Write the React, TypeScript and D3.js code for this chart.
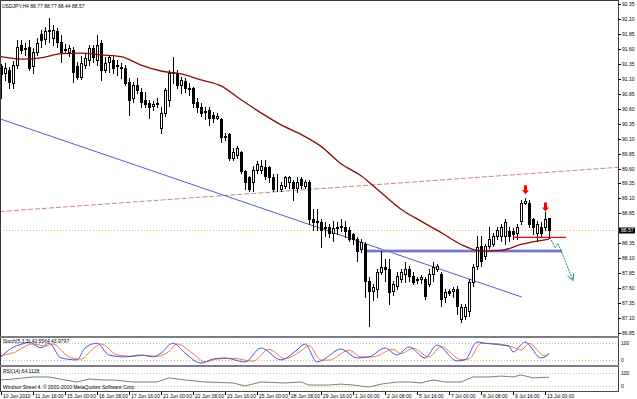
import React from "react";
import * as d3 from "d3";

const TITLE = "USDJPY,H4 88.77 88.77 88.44 88.57";
const STOCH_TITLE = "Stoch(5,3,3) 42.5564 43.9797";
const RSI_TITLE = "RSI(14) 64.1128";
const COPYRIGHT = "Windsor Street 4, \u00a9 2001-2010 MetaQuotes Software Corp.";

const opens = [
  91.32, 91.2, 91.25, 91.03, 91.33, 91.67, 91.62, 91.63, 91.32, 91.55,
  91.85, 91.77, 91.9, 91.78, 91.9, 91.72, 91.58, 91.55, 91.58, 91.32,
  91.13, 91.33, 91.42, 91.62, 91.42, 91.7, 91.25, 91.38, 91.42, 91.33,
  91.3, 91.28, 91.05, 90.78, 91.0, 90.88, 90.75, 90.7, 90.65, 90.67,
  90.27, 90.53, 90.75, 91.2, 91.2, 91.0, 91.07, 90.93, 90.95, 90.72,
  90.63, 90.55, 90.58, 90.5, 90.45, 90.42, 90.13, 90.17, 89.78, 89.83,
  89.87, 89.55, 89.45, 89.37, 89.58, 89.58, 89.63, 89.62, 89.45, 89.3,
  89.25, 89.3, 89.37, 89.37, 89.28, 89.42, 89.3, 89.38, 88.75, 88.72,
  88.7, 88.62, 88.62, 88.53, 88.62, 88.63, 88.63, 88.58, 88.5, 88.42,
  88.25, 88.33, 87.72, 87.55, 87.58, 87.87, 87.95, 87.92, 87.55, 87.63,
  87.75, 87.83, 87.92, 87.8, 87.75, 87.75, 87.75, 87.67, 87.83, 87.92,
  87.83, 87.45, 87.55, 87.55, 87.58, 87.08, 87.13, 87.22, 87.7, 87.97,
  88.3, 88.13, 88.3, 88.33, 88.47, 88.47, 88.47, 88.55, 88.55, 88.53,
  88.72, 89.03, 89.03, 88.75, 88.53, 88.63, 88.62, 88.77,
];
const highs = [
  91.35, 91.37, 91.3, 91.4, 91.75, 91.75, 91.7, 91.75, 91.62, 91.78,
  91.92, 91.97, 92.12, 92.0, 91.95, 91.83, 91.68, 91.67, 91.63, 91.38,
  91.48, 91.52, 91.67, 91.67, 91.83, 91.75, 91.47, 91.5, 91.5, 91.42,
  91.37, 91.33, 91.12, 91.05, 91.12, 90.95, 90.88, 90.75, 90.73, 90.78,
  90.63, 90.95, 91.25, 91.47, 91.25, 91.13, 91.12, 91.03, 90.97, 90.78,
  90.7, 90.63, 90.62, 90.55, 90.53, 90.45, 90.2, 90.2, 89.95, 89.98,
  89.9, 89.58, 89.48, 89.65, 89.73, 89.75, 89.75, 89.65, 89.5, 89.5,
  89.37, 89.47, 89.48, 89.4, 89.45, 89.45, 89.4, 89.4, 88.92, 88.93,
  88.75, 88.7, 88.67, 88.72, 88.7, 88.75, 88.72, 88.63, 88.53, 88.45,
  88.42, 88.37, 87.78, 87.67, 87.92, 88.22, 88.08, 88.08, 87.72, 87.87,
  87.92, 88.03, 87.97, 87.87, 87.78, 87.82, 87.78, 87.92, 88.03, 88.0,
  87.87, 87.58, 87.58, 87.62, 87.63, 87.33, 87.33, 87.75, 88.0, 88.47,
  88.47, 88.33, 88.63, 88.53, 88.63, 88.67, 88.75, 88.62, 88.6, 88.67,
  89.07, 89.1, 89.07, 88.78, 88.72, 88.7, 88.87, 88.77,
];
const lows = [
  90.78, 91.08, 90.95, 90.95, 91.28, 91.53, 91.5, 91.25, 91.2, 91.5,
  91.63, 91.68, 91.72, 91.67, 91.63, 91.38, 91.53, 91.48, 91.05, 91.1,
  91.1, 91.28, 91.33, 91.38, 91.33, 91.08, 91.22, 91.22, 91.2, 91.17,
  91.12, 91.0, 90.5, 90.72, 90.87, 90.62, 90.62, 90.45, 90.58, 90.62,
  90.2, 90.48, 90.65, 91.03, 90.95, 90.87, 90.88, 90.83, 90.63, 90.55,
  90.47, 90.42, 90.33, 90.38, 90.42, 90.05, 90.08, 89.75, 89.75, 89.78,
  89.53, 89.25, 89.23, 89.23, 89.53, 89.52, 89.42, 89.37, 89.22, 89.22,
  89.22, 89.27, 89.27, 89.08, 89.2, 89.28, 89.28, 88.67, 88.58, 88.58,
  88.28, 88.47, 88.45, 88.38, 88.5, 88.55, 88.45, 88.38, 88.33, 88.05,
  88.2, 87.45, 86.97, 87.4, 87.45, 87.83, 87.72, 87.33, 87.48, 87.58,
  87.7, 87.7, 87.72, 87.67, 87.68, 87.68, 87.42, 87.63, 87.72, 87.88,
  87.3, 87.37, 87.48, 87.45, 87.17, 87.03, 87.08, 87.13, 87.63, 87.92,
  87.97, 88.08, 88.27, 88.3, 88.42, 88.38, 88.33, 88.38, 88.42, 88.42,
  88.67, 89.0, 88.63, 88.5, 88.38, 88.47, 88.58, 88.44,
];
const closes = [
  91.18, 91.28, 91.05, 91.33, 91.63, 91.58, 91.6, 91.28, 91.55, 91.7,
  91.75, 91.9, 91.92, 91.92, 91.72, 91.53, 91.6, 91.62, 91.22, 91.13,
  91.37, 91.45, 91.62, 91.47, 91.67, 91.25, 91.37, 91.47, 91.28, 91.32,
  91.28, 91.03, 90.75, 91.0, 90.92, 90.72, 90.67, 90.63, 90.68, 90.7,
  90.52, 90.92, 91.2, 91.22, 91.0, 91.08, 90.95, 90.95, 90.7, 90.63,
  90.53, 90.56, 90.45, 90.45, 90.47, 90.13, 90.14, 89.78, 89.88, 89.95,
  89.55, 89.38, 89.25, 89.58, 89.67, 89.65, 89.47, 89.45, 89.25, 89.31,
  89.32, 89.45, 89.45, 89.28, 89.38, 89.33, 89.37, 88.75, 88.7, 88.71,
  88.58, 88.61, 88.53, 88.6, 88.61, 88.64, 88.55, 88.42, 88.42, 88.22,
  88.37, 87.72, 87.55, 87.62, 87.87, 87.95, 87.92, 87.53, 87.67, 87.8,
  87.87, 87.92, 87.8, 87.7, 87.74, 87.78, 87.47, 87.83, 87.95, 87.97,
  87.42, 87.53, 87.52, 87.58, 87.3, 87.28, 87.28, 87.7, 87.95, 88.28,
  88.05, 88.3, 88.42, 88.47, 88.58, 88.63, 88.7, 88.47, 88.5, 88.62,
  89.03, 89.05, 88.67, 88.63, 88.67, 88.53, 88.75, 88.57,
];

const timeLabels = [
  "10 Jun 2010", "11 Jun 16:00", "15 Jun 00:00", "16 Jun 08:00", "17 Jun 16:00",
  "21 Jun 00:00", "22 Jun 08:00", "23 Jun 16:00", "25 Jun 00:00", "28 Jun 08:00",
  "29 Jun 16:00", "1 Jul 00:00", "2 Jul 08:00", "5 Jul 16:00", "7 Jul 00:00",
  "8 Jul 08:00", "9 Jul 16:00", "13 Jul 00:00",
];
const timeLabelBars = [0, 8, 16, 24, 32, 40, 48, 56, 64, 72, 80, 88, 96, 104, 112, 120, 128, 136];

const priceTicks = [
  92.35, 92.1, 91.85, 91.6, 91.35, 91.1, 90.85, 90.6, 90.35, 90.1, 89.85, 89.6,
  89.35, 89.1, 88.85, 88.35, 88.1, 87.85, 87.6, 87.35, 87.1, 86.85,
];
const lastPrice = 88.57;

const maBars = [0, 5, 10, 15, 20, 25, 30, 35, 40, 45, 50, 55, 60, 65, 70, 75, 80, 85, 90, 95, 100, 105, 110, 115, 120, 125, 130, 137];
const maValues = [91.47, 91.43, 91.45, 91.52, 91.53, 91.5, 91.47, 91.33, 91.23, 91.18, 91.08, 90.98, 90.75, 90.53, 90.33, 90.17, 89.97, 89.68, 89.48, 89.2, 88.92, 88.72, 88.53, 88.33, 88.22, 88.23, 88.33, 88.42];

const stochMainBars = [0, 2, 6, 7, 10, 12, 15, 19, 21, 24, 27, 31, 35, 38, 40, 43, 46, 50, 53, 56, 61, 65, 70, 74, 76, 79, 80, 85, 89, 92, 96, 99, 102, 106, 109, 114, 116, 119, 121, 125, 127, 128, 131, 135, 136, 137];
const stochMainValues = [30, 56, 81, 85, 63, 81, 26, 19, 63, 81, 37, 30, 37, 30, 44, 81, 44, 7, 22, 26, 11, 63, 19, 56, 78, 11, 15, 59, 26, 30, 63, 37, 67, 26, 74, 15, 19, 85, 81, 74, 70, 48, 85, 26, 30, 42.56];
const stochSignalBars = [0, 3, 8, 11, 13, 17, 20, 23, 25, 29, 33, 36, 39, 42, 44, 48, 51, 54, 58, 63, 67, 71, 75, 77, 80, 82, 87, 90, 93, 98, 100, 103, 107, 110, 115, 117, 120, 123, 126, 128, 130, 132, 136, 137];
const stochSignalValues = [35, 45, 78, 70, 78, 30, 22, 60, 78, 38, 32, 36, 32, 50, 78, 42, 12, 22, 25, 14, 58, 24, 52, 72, 18, 18, 55, 30, 30, 58, 42, 62, 30, 68, 20, 22, 80, 80, 74, 66, 55, 80, 34, 43.98];

const rsiBars = [0, 3, 8, 12, 16, 19, 22, 25, 28, 33, 39, 42, 46, 51, 58, 61, 65, 71, 75, 77, 82, 85, 88, 92, 95, 99, 102, 105, 108, 111, 115, 118, 122, 125, 128, 130, 133, 137];
const rsiValues = [48, 52, 61, 61, 48, 39, 52, 48, 48, 39, 39, 57, 48, 39, 35, 22, 39, 35, 39, 26, 26, 30, 26, 17, 30, 39, 39, 35, 48, 39, 39, 61, 61, 65, 61, 70, 57, 60];

const trendBars = [-0.25, 130.25];
const trendPrices = [90.43, 87.45];
const channelBars = [-0.25, 154.25];
const channelPrices = [88.88, 89.62];
const supportBars = [91.25, 140.25];
const supportPrice = 88.22;
const redLineBars = [128, 141.25];
const redLinePrice = 88.45;
const projBars = [137.25, 138.5, 139.25, 143];
const projPrices = [88.45, 88.27, 88.35, 87.73];
const arrowBars = [131, 136];
const arrowPrices = [89.17, 88.88];

const FONT = "'Liberation Sans', Arial, sans-serif";
const PR = 618; // plot right edge

export default function App() {
  const x = d3.scaleLinear().domain([0, 137]).range([1, 549]);
  const y = d3.scaleLinear().domain([86.85, 92.35]).range([333, 4]);
  const ys = d3.scaleLinear().domain([0, 100]).range([365, 338]);
  const yr = d3.scaleLinear().domain([0, 100]).range([391, 368]);

  const maLine = d3
    .line<number>()
    .x((_, i) => x(maBars[i]))
    .y((d) => y(d))
    .curve(d3.curveMonotoneX)(maValues);

  const stochMain = d3
    .line<number>()
    .x((_, i) => x(stochMainBars[i]))
    .y((d) => ys(d))
    .curve(d3.curveMonotoneX)(stochMainValues);
  const stochSig = d3
    .line<number>()
    .x((_, i) => x(stochSignalBars[i]))
    .y((d) => ys(d))
    .curve(d3.curveMonotoneX)(stochSignalValues);
  const rsiLine = d3
    .line<number>()
    .x((_, i) => x(rsiBars[i]))
    .y((d) => yr(d))(rsiValues);

  const projLine = d3
    .line<number>()
    .x((_, i) => x(projBars[i]))
    .y((d) => y(d))(projPrices);
  const n = projBars.length;
  const tipX = x(projBars[n - 1]);
  const tipY = y(projPrices[n - 1]);
  const ang = Math.atan2(tipY - y(projPrices[n - 2]), tipX - x(projBars[n - 2]));
  const headLen = 7;
  const h1 = [tipX - headLen * Math.cos(ang - 0.5), tipY - headLen * Math.sin(ang - 0.5)];
  const h2 = [tipX - headLen * Math.cos(ang + 0.5), tipY - headLen * Math.sin(ang + 0.5)];

  const candles = opens.map((o, i) => {
    const c = closes[i];
    const cx = Math.round(x(i));
    const top = Math.round(y(Math.max(o, c)));
    const bot = Math.round(y(Math.min(o, c)));
    const bull = c >= o;
    return (
      <g key={i}>
        <line x1={cx + 0.5} x2={cx + 0.5} y1={Math.round(y(highs[i]))} y2={Math.round(y(lows[i])) + 1} stroke="#000" strokeWidth={1} />
        <rect
          x={cx - 0.5}
          y={top + 0.5}
          width={2}
          height={Math.max(bot - top, 0)}
          fill={bull ? "#fff" : "#000"}
          stroke="#000"
          strokeWidth={1}
        />
      </g>
    );
  });

  return (
    <svg
      width={637}
      height={399}
      style={{ position: "fixed", left: 0, top: 0, background: "#fff" }}
      fontFamily={FONT}
    >
      <defs>
        <clipPath id="clipMain">
          <rect x={1} y={1} width={PR - 1} height={335} />
        </clipPath>
        <clipPath id="clipStoch">
          <rect x={1} y={338} width={PR - 1} height={27} />
        </clipPath>
        <clipPath id="clipRsi">
          <rect x={1} y={368} width={PR - 1} height={23} />
        </clipPath>
      </defs>
      <rect x={0} y={0} width={637} height={399} fill="#fff" />

      {/* main panel */}
      <g clipPath="url(#clipMain)">
        <line x1={0} x2={PR} y1={Math.round(y(lastPrice)) + 0.5} y2={Math.round(y(lastPrice)) + 0.5} stroke="#f2b84a" strokeDasharray="1,2" />
        <line
          x1={x(channelBars[0])}
          x2={x(channelBars[1])}
          y1={y(channelPrices[0])}
          y2={y(channelPrices[1])}
          stroke="#c48878"
          strokeDasharray="5,2"
        />
        <line
          x1={x(trendBars[0])}
          x2={x(trendBars[1])}
          y1={y(trendPrices[0])}
          y2={y(trendPrices[1])}
          stroke="#5a5ad2"
          strokeWidth={1}
        />
        <line
          x1={x(supportBars[0])}
          x2={x(supportBars[1])}
          y1={y(supportPrice)}
          y2={y(supportPrice)}
          stroke="#9a9ae8"
          strokeWidth={3}
        />
        <line
          x1={x(supportBars[0])}
          x2={x(supportBars[1])}
          y1={y(supportPrice)}
          y2={y(supportPrice)}
          stroke="#5a50b8"
          strokeWidth={1}
        />
        <g shapeRendering="crispEdges">{candles}</g>
        <path d={maLine || ""} fill="none" stroke="#8b0a0a" strokeWidth={1.3} />
        <line
          x1={x(redLineBars[0])}
          x2={x(redLineBars[1])}
          y1={y(redLinePrice)}
          y2={y(redLinePrice)}
          stroke="#ff0000"
          strokeWidth={1.2}
        />
        <path d={projLine || ""} fill="none" stroke="#0c8a8a" strokeWidth={1} strokeDasharray="2,1" />
        <path d={`M${h1[0]},${h1[1]}L${tipX},${tipY}L${h2[0]},${h2[1]}`} fill="none" stroke="#0c8a8a" strokeWidth={1} />
        {arrowBars.map((b, i) => {
          const ax = x(b) + 0.5;
          const ay = y(arrowPrices[i]);
          return (
            <path
              key={i}
              d={`M${ax},${ay}L${ax - 3.5},${ay - 4}L${ax - 1.5},${ay - 4}L${ax - 1.5},${ay - 9}L${ax + 1.5},${ay - 9}L${ax + 1.5},${ay - 4}L${ax + 3.5},${ay - 4}Z`}
              fill="#ff0000"
            />
          );
        })}
      </g>
      <text x={2} y={8} fontSize={5} fill="#000">{TITLE}</text>

      {/* stoch panel */}
      <g clipPath="url(#clipStoch)">
        <line x1={0} x2={PR} y1={Math.round(ys(80)) + 0.5} y2={Math.round(ys(80)) + 0.5} stroke="#a8c4cc" strokeDasharray="1,2" />
        <line x1={0} x2={PR} y1={Math.round(ys(20)) + 0.5} y2={Math.round(ys(20)) + 0.5} stroke="#d8c070" strokeDasharray="1,2" />
        <path d={stochSig || ""} fill="none" stroke="#f08040" strokeWidth={1} />
        <path d={stochMain || ""} fill="none" stroke="#4a5ae0" strokeWidth={1} />
      </g>
      <text x={3} y={343} fontSize={5} fill="#000">{STOCH_TITLE}</text>

      {/* rsi panel */}
      <g clipPath="url(#clipRsi)">
        <line x1={0} x2={PR} y1={Math.round(yr(80)) + 0.5} y2={Math.round(yr(80)) + 0.5} stroke="#a8c4cc" strokeDasharray="1,2" />
        <line x1={0} x2={PR} y1={Math.round(yr(20)) + 0.5} y2={Math.round(yr(20)) + 0.5} stroke="#d8c070" strokeDasharray="1,2" />
        <path d={rsiLine || ""} fill="none" stroke="#6e8c6a" strokeWidth={1} />
      </g>
      <text x={3} y={373} fontSize={5} fill="#000">{RSI_TITLE}</text>
      <text x={3} y={389} fontSize={5} fill="#000">{COPYRIGHT}</text>

      {/* frames */}
      <g shapeRendering="crispEdges">
        <line x1={0.5} x2={0.5} y1={0} y2={391} stroke="#3a3a3a" />
        <line x1={0} x2={PR} y1={0.5} y2={0.5} stroke="#3a3a3a" />
        <line x1={PR + 0.5} x2={PR + 0.5} y1={0} y2={392} stroke="#4a3a4a" />
        <rect x={0} y={336} width={PR + 1} height={2} fill="#7c7c88" />
        <rect x={0} y={365} width={PR + 1} height={2} fill="#7c7c88" />
        <line x1={0} x2={PR + 1} y1={391.5} y2={391.5} stroke="#4a4a4a" />
      </g>

      {/* price axis */}
      <g fontSize={5} fill="#000">
        {priceTicks.map((p) => {
          const py = Math.round(y(p));
          return (
            <g key={p}>
              <line x1={PR} x2={PR + 3} y1={py + 0.5} y2={py + 0.5} stroke="#000" />
              <text x={PR + 4} y={py + 2}>{p.toFixed(2)}</text>
            </g>
          );
        })}
        <rect x={PR + 1} y={Math.round(y(lastPrice)) - 2.5} width={16} height={6} fill="#000" />
        <text x={PR + 3} y={Math.round(y(lastPrice)) + 2} fill="#fff">{lastPrice.toFixed(2)}</text>
        <text x={PR + 3} y={ys(80) + 2}>100</text>
        <text x={PR + 3} y={ys(20) + 2}>0</text>
        <text x={PR + 3} y={yr(80) + 2}>100</text>
        <text x={PR + 3} y={yr(20) + 2}>0</text>
      </g>

      {/* time axis */}
      <g fontSize={5} fill="#000">
        {timeLabelBars.map((b, i) => {
          const tx = Math.round(x(b));
          return (
            <g key={b}>
              <line x1={tx + 0.5} x2={tx + 0.5} y1={392} y2={395} stroke="#000" />
              <text x={tx + 2} y={398}>{timeLabels[i]}</text>
            </g>
          );
        })}
      </g>
    </svg>
  );
}
